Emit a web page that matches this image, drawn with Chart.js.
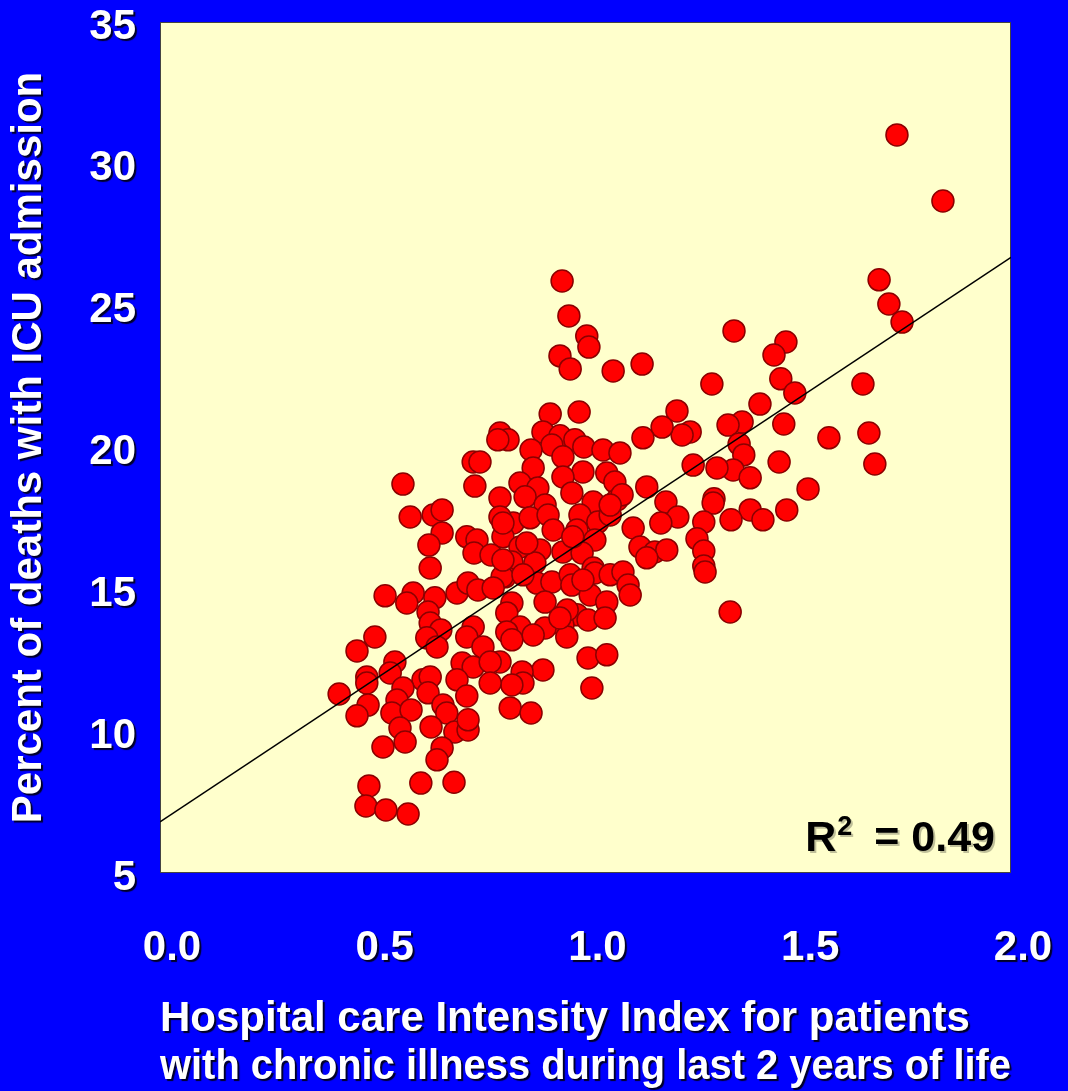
<!DOCTYPE html>
<html>
<head>
<meta charset="utf-8">
<script src="https://cdn.jsdelivr.net/npm/chart.js@4.4.1/dist/chart.umd.min.js"></script>
<style>
  html, body { margin: 0; padding: 0; background: #0000ff; }
  canvas { display: block; }
</style>
</head>
<body>
<canvas id="chart" width="1068" height="1091"></canvas>
<script>
// Hospital care intensity vs ICU deaths - one point per region

const intensityIndex = [
  1.732, 1.840, 1.690, 1.713, 1.744, 1.652, 1.666, 1.680, 1.572, 1.523,
  1.471, 1.443, 1.459, 1.492, 1.410, 1.368, 1.335, 1.466, 1.361, 1.372,
  1.455, 1.347, 1.309, 1.253, 1.387, 1.302, 1.300, 1.387, 1.473, 1.342,
  1.417, 1.278, 1.262, 1.278, 1.278, 1.281, 1.340, 1.349, 1.297, 1.246,
  1.227, 1.215, 1.180, 1.135, 1.144, 1.189, 1.217, 1.177, 1.112, 1.128,
  1.163, 1.191, 1.144, 1.065, 1.133, 0.945, 0.961, 1.003, 1.008, 0.940,
  0.964, 0.917, 0.985, 0.799, 0.818, 0.900, 0.940, 0.921, 0.975, 0.872,
  0.996, 1.041, 1.081, 0.947, 0.877, 0.994, 1.050, 1.069, 0.947, 0.846,
  0.888, 0.968, 0.858, 0.905, 1.018, 1.074, 0.799, 1.086, 0.987, 1.029,
  1.058, 0.830, 0.870, 0.912, 0.980, 1.022, 0.806, 0.846, 0.893, 0.947,
  0.992, 0.827, 0.881, 1.018, 0.811, 0.886, 0.921, 0.964, 0.968, 1.022,
  1.058, 1.088, 1.100, 1.105, 0.905, 1.011, 1.050, 0.827, 0.815, 0.980,
  1.006, 1.046, 0.947, 0.905, 0.846, 0.815, 0.827, 0.956, 1.006, 1.050,
  1.015, 0.900, 0.851, 0.853, 0.827, 0.823, 0.872, 0.799, 0.571, 0.736,
  0.752, 0.740, 0.794, 0.588, 0.642, 0.663, 0.663, 0.632, 0.721, 0.745,
  0.799, 0.806, 0.635, 0.738, 0.778, 0.529, 0.595, 0.580, 0.646, 0.630,
  0.698, 0.724, 0.747, 0.635, 0.660, 0.736, 0.505, 0.804, 0.783, 0.463,
  0.627, 0.651, 0.721, 0.759, 0.710, 0.736, 0.776, 0.552, 0.541, 0.486,
  0.486, 0.421, 0.618, 0.635, 0.571, 0.557, 0.630, 0.698, 0.721, 0.776,
  0.489, 0.463, 0.545, 0.590, 0.665, 0.674, 0.637, 0.564, 0.576, 0.524,
  0.693, 0.724, 0.724, 0.663, 0.651, 0.491, 0.613, 0.691, 0.484, 0.531,
  0.583, 0.806, 0.853, 0.994, 0.957, 0.877, 0.940, 1.058, 0.862, 0.924,
  0.970
];

const icuDeathPct = [
  31.02, 28.69, 25.91, 25.06, 24.42, 22.24, 20.51, 19.42, 20.34, 18.54,
  23.72, 23.26, 22.42, 21.92, 21.53, 20.90, 20.79, 20.83, 20.12, 19.74,
  19.49, 19.21, 19.28, 19.38, 18.93, 18.19, 18.04, 17.80, 17.80, 17.45,
  17.45, 17.37, 16.78, 16.35, 15.82, 15.61, 14.20, 24.11, 22.24, 20.55,
  20.44, 21.29, 20.72, 20.34, 18.61, 18.08, 17.55, 17.34, 17.16, 16.49,
  16.32, 16.39, 16.11, 22.70, 22.94, 25.87, 24.64, 23.93, 23.54, 23.23,
  22.77, 21.18, 21.25, 20.51, 20.27, 20.55, 20.41, 20.09, 20.27, 19.91,
  20.02, 19.91, 19.81, 19.67, 19.28, 19.14, 19.10, 18.78, 18.96, 18.75,
  18.57, 18.40, 18.26, 17.97, 18.08, 18.15, 18.22, 18.33, 17.62, 17.37,
  17.62, 17.34, 17.52, 17.62, 17.09, 16.74, 16.85, 16.49, 16.39, 16.32,
  16.28, 15.96, 15.93, 15.75, 15.44, 15.22, 15.26, 15.51, 15.15, 15.58,
  15.51, 15.61, 15.15, 14.80, 14.55, 14.80, 14.55, 14.52, 14.17, 14.10,
  13.92, 13.99, 13.74, 13.64, 13.67, 13.50, 13.22, 13.32, 12.58, 12.69,
  11.52, 12.16, 12.09, 11.70, 11.63, 10.82, 10.64, 12.44, 18.71, 19.49,
  19.49, 18.64, 20.27, 17.55, 17.62, 17.80, 16.99, 16.56, 16.85, 16.74,
  17.55, 17.34, 15.75, 16.28, 16.21, 14.77, 14.87, 14.52, 14.70, 14.20,
  14.87, 15.22, 14.98, 13.81, 13.57, 13.67, 13.32, 15.44, 15.05, 12.83,
  13.29, 12.97, 13.32, 12.97, 12.40, 12.26, 12.44, 12.44, 12.05, 11.91,
  11.70, 11.31, 11.81, 11.91, 11.52, 11.10, 11.35, 11.81, 11.24, 11.70,
  10.92, 10.54, 10.64, 10.75, 10.92, 10.64, 10.15, 10.11, 9.62, 9.44,
  9.97, 10.04, 10.40, 9.41, 8.99, 8.07, 8.17, 8.20, 7.36, 7.22,
  7.08, 16.03, 15.51, 15.33, 14.27, 13.39, 13.99, 17.97, 16.63, 17.09,
  16.85
];

// fitted line ends
const trendX = [0, 2.0];
const trendY = [6.8, 26.7];

const rSquared = '0.49';
const yTitle = 'Percent of deaths with ICU admission';
const xTitleLines = [
  'Hospital care Intensity Index for patients',
  'with chronic illness during last 2 years of life'
];

const FONT = "'Liberation Sans', Arial, Helvetica, sans-serif";

const points = intensityIndex.map((x, i) => ({ x, y: icuDeathPct[i] }));
const trend = trendX.map((x, i) => ({ x, y: trendY[i] }));

// Yellow plot box, shadowed white texts, frame and R² label
const slideStyle = {
  id: 'slideStyle',
  beforeDraw(chart) {
    const { ctx, chartArea: a } = chart;
    ctx.save();
    ctx.fillStyle = '#0000ff';
    ctx.fillRect(0, 0, chart.width, chart.height);
    ctx.fillStyle = '#ffffcc';
    ctx.fillRect(a.left, a.top, a.right - a.left, a.bottom - a.top);
    ctx.restore();
    ctx.shadowColor = 'rgba(0, 0, 0, 0.85)';
    ctx.shadowOffsetX = 2;
    ctx.shadowOffsetY = 2;
    ctx.shadowBlur = 1;
  },
  beforeDatasetsDraw(chart) {
    const { ctx, chartArea: a } = chart;
    ctx.shadowColor = 'transparent';
    ctx.shadowOffsetX = 0;
    ctx.shadowOffsetY = 0;
    ctx.shadowBlur = 0;
    ctx.save();
    ctx.strokeStyle = '#444';
    ctx.lineWidth = 1;
    ctx.strokeRect(a.left + 0.5, a.top + 0.5, a.right - a.left - 1, a.bottom - a.top - 1);
    ctx.restore();
  },
  afterDatasetsDraw(chart) {
    const { ctx, chartArea: a } = chart;
    ctx.save();
    ctx.shadowColor = 'rgba(0, 0, 0, 0.25)';
    ctx.shadowOffsetX = 2;
    ctx.shadowOffsetY = 2;
    ctx.fillStyle = '#000';
    ctx.textBaseline = 'alphabetic';
    ctx.textAlign = 'right';
    const base = a.bottom - 22;
    let right = a.right - 16;
    ctx.font = `bold 43px ${FONT}`;
    const eq = '= ' + rSquared;
    ctx.fillText(eq, right, base);
    right -= ctx.measureText(eq).width + 22;
    ctx.font = `bold 27px ${FONT}`;
    ctx.fillText('2', right, base - 16);
    right -= ctx.measureText('2').width + 1;
    ctx.font = `bold 43px ${FONT}`;
    ctx.fillText('R', right, base);
    ctx.restore();
  }
};

new Chart(document.getElementById('chart'), {
  type: 'scatter',
  data: {
    datasets: [
      {
        label: 'Trend',
        data: trend,
        showLine: true,
        borderColor: '#000',
        borderWidth: 1.5,
        pointRadius: 0,
        order: 0
      },
      {
        label: 'Regions',
        data: points,
        backgroundColor: '#ff0000',
        borderColor: '#8b0000',
        borderWidth: 1.5,
        pointRadius: 11,
        pointHoverRadius: 11,
        order: 1
      }
    ]
  },
  options: {
    responsive: false,
    animation: false,
    layout: { padding: { left: 4, top: 22, right: 57, bottom: 0 } },
    plugins: {
      legend: { display: false },
      tooltip: { enabled: false }
    },
    scales: {
      x: {
        type: 'linear',
        min: 0,
        max: 2,
        afterFit(scale) {
          scale.height = 218;
          scale.paddingLeft = 0;
          scale.paddingRight = 0;
        },
        grid: { display: false, drawTicks: false },
        border: { display: false },
        ticks: {
          stepSize: 0.5,
          color: '#fff',
          padding: 50,
          labelOffset: 12,
          font: { family: FONT, size: 42, weight: 'bold' },
          callback: v => Number(v).toFixed(1)
        },
        title: {
          display: true,
          text: xTitleLines,
          align: 'start',
          color: '#fff',
          padding: { top: 0, bottom: 0 },
          font: { family: FONT, size: 42, weight: 'bold', lineHeight: 1.143 }
        }
      },
      y: {
        min: 5,
        max: 35,
        afterFit(scale) {
          scale.width = 156;
          scale.paddingTop = 0;
          scale.paddingBottom = 0;
        },
        grid: { display: false, drawTicks: false },
        border: { display: false },
        ticks: {
          stepSize: 5,
          color: '#fff',
          padding: 24,
          labelOffset: 5,
          font: { family: FONT, size: 42, weight: 'bold' }
        },
        title: {
          display: true,
          text: yTitle,
          color: '#fff',
          padding: { top: 0, bottom: 0 },
          font: { family: FONT, size: 42, weight: 'bold', lineHeight: 1.2 }
        }
      }
    }
  },
  plugins: [slideStyle]
});
</script>
</body>
</html>
